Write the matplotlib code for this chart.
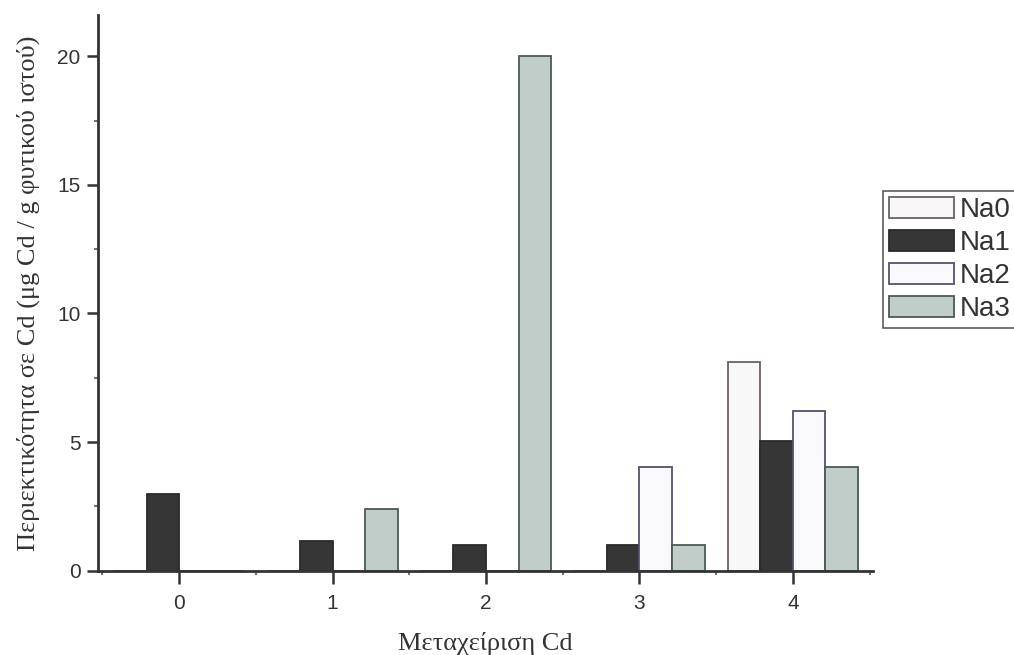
import matplotlib
matplotlib.use("Agg")
import matplotlib.pyplot as plt
import numpy as np
from matplotlib.ticker import MultipleLocator

categories = [0, 1, 2, 3, 4]
series_names = ["Na0", "Na1", "Na2", "Na3"]
na0 = [0, 0, 0, 0, 8.1]
na1 = [3.0, 1.15, 1.0, 1.0, 5.05]
na2 = [0, 0, 0, 4.05, 6.2]
na3 = [0, 2.4, 20.0, 1.0, 4.05]

faces = ["#f9f8f8", "#363636", "#f9f9fc", "#c0cdc9"]
edges = ["#6e6060", "#2a2a2a", "#5a4f6e", "#4a5a55"]

fig = plt.figure(figsize=(10.14, 6.55), dpi=100)
ax = fig.add_axes([0.0964, 0.1287, 0.7643, 0.8483])

x = np.array(categories, dtype=float)
w = 0.212
offsets = [-1.5 * w, -0.5 * w, 0.5 * w, 1.5 * w]
handles = []
for vals, off, fc, ec, name in zip([na0, na1, na2, na3], offsets, faces, edges, series_names):
    h = ax.bar(x + off, vals, width=w, facecolor=fc, edgecolor=ec, linewidth=1.3, label=name, zorder=2)
    handles.append(h)

ax.set_xlim(-0.53, 4.52)
ax.set_ylim(0, 21.6)
for s in ["top", "right"]:
    ax.spines[s].set_visible(False)
for s in ["left", "bottom"]:
    ax.spines[s].set_linewidth(2.0)
    ax.spines[s].set_color("#333333")
    ax.spines[s].set_zorder(3)

ax.set_xticks(categories)
ax.set_xticklabels([str(c) for c in categories])
ax.xaxis.set_minor_locator(MultipleLocator(0.5))
ax.set_yticks([0, 5, 10, 15, 20])
ax.yaxis.set_minor_locator(MultipleLocator(2.5))
ax.tick_params(axis="x", which="major", direction="out", length=9.5, width=1.8,
               color="#333333", labelsize=15, labelcolor="#333333", pad=7)
ax.tick_params(axis="y", which="major", direction="out", length=8, width=1.8,
               color="#333333", labelsize=15, labelcolor="#333333", pad=4.5)
ax.tick_params(axis="both", which="minor", direction="out", length=3, width=1.5, color="#777777")
for lbl in ax.get_xticklabels() + ax.get_yticklabels():
    lbl.set_fontfamily("Liberation Sans")

ax.set_xlabel("Μεταχείριση Cd", fontfamily="Liberation Serif", fontsize=19, color="#333333", labelpad=14)
ax.set_ylabel("Περιεκτικότητα σε Cd (μg Cd / g φυτικού ιστού)", fontfamily="Liberation Serif",
              fontsize=19, color="#333333", labelpad=12)

leg = fig.legend(handles=handles, labels=series_names, loc="upper left",
                 bbox_to_anchor=(883 / 1014, 1 - 191 / 655), frameon=True, fancybox=False,
                 prop={"family": "Liberation Sans", "size": 20}, handlelength=2.35, handleheight=0.8,
                 labelspacing=0.25, handletextpad=0.2, borderpad=0.2, borderaxespad=0)
leg.get_frame().set_edgecolor("#333333")
leg.get_frame().set_linewidth(1.2)
for t in leg.get_texts():
    t.set_color("#333333")

fig.savefig("out.png", dpi=100)
